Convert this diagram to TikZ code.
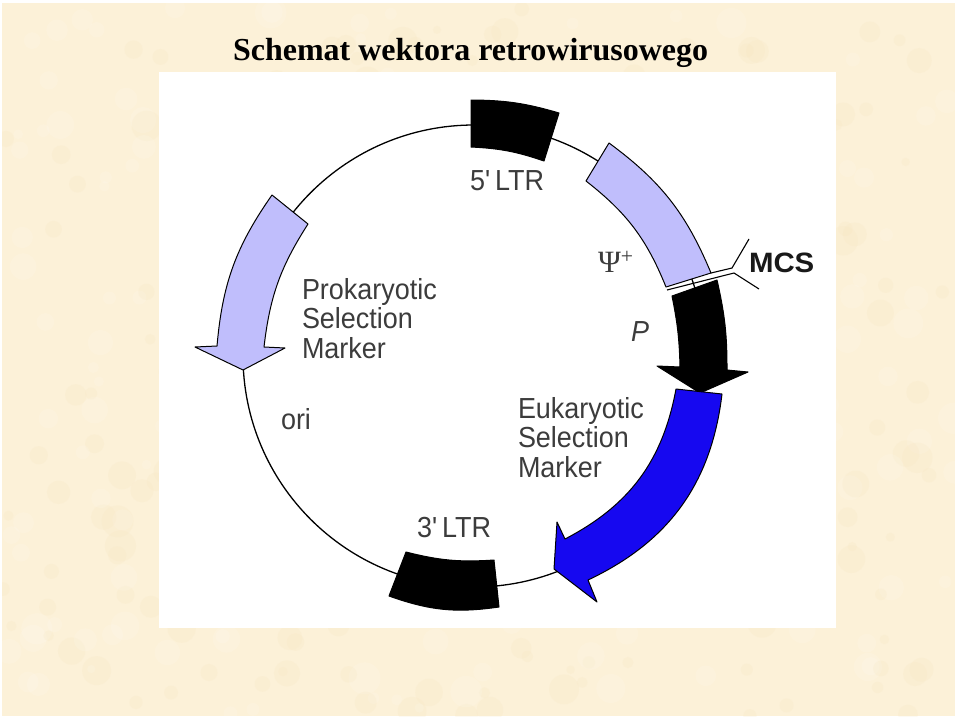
\documentclass[tikz,border=0pt]{standalone}
\usepackage{fontspec}
\setmainfont{Liberation Serif}
\newfontfamily\labelfont[FakeStretch=0.93, WordSpace=0.65]{Liberation Sans}
\newfontfamily\mcsfont[FakeStretch=1.05]{Liberation Sans}
\definecolor{paper}{HTML}{FCF1D8}
\definecolor{blotch}{HTML}{F6E3BC}
\definecolor{lavender}{HTML}{C0BEFC}
\definecolor{deepblue}{HTML}{1608F0}
\definecolor{labelgrey}{HTML}{3C3C3C}
\begin{document}
\begin{tikzpicture}[
  x=1pt, y=-1pt,
  every node/.style={inner sep=0pt, outer sep=0pt},
  plasmid/.style={draw=black, line width=1.3pt},
  segment/.style={draw=black, line width=1pt, line join=round},
  label text/.style={font=\labelfont\fontsize{29}{29.5}\selectfont, text=labelgrey, align=left, anchor=north west}
]
\useasboundingbox (0,0) rectangle (960,720);
\fill[paper] (2,3) rectangle (955,716);
\pgfmathsetseed{7}
\begin{scope}
  \clip (2,3) rectangle (955,716);
  \foreach \i in {1,...,220} {
    \fill[blotch, opacity=0.18] (2+953*rnd,3+713*rnd) circle [radius=4+12*rnd];
    \fill[white, opacity=0.12] (2+953*rnd,3+713*rnd) circle [radius=4+12*rnd];
  }
\end{scope}
\fill[white] (159,72) rectangle (836,628);

\node[font=\bfseries\fontsize{32}{34}\selectfont, anchor=base west] (title) at (233,60) {Schemat wektora retrowirusowego};

% plasmid ring
\draw[plasmid] (474,356) circle [radius=231];

% segments, clockwise from the top
\filldraw[segment, fill=black] (471,100) to[bend left=8] (559,113) -- (544,161)
  to[bend right=8] (471,147) -- cycle;
\filldraw[segment, fill=lavender] (609,143) to[bend left=15.5] (711,273) -- (666,287)
  to[bend right=15] (586,181) -- cycle;
\filldraw[segment, fill=black] (672,296) to[bend left=5] (680,367) -- (657,366)
  -- (700,393) -- (748,372) -- (727,370) to[bend right=6.5] (717,280) -- cycle;
\filldraw[segment, fill=deepblue] (676,389) -- (722,394) to[bend left=29] (588,580)
  -- (597,602) -- (554,569) -- (557,522) -- (565,539) to[bend right=26] (676,389) -- cycle;
\filldraw[segment, fill=black] (406,552) to[bend right=9] (494,560) -- (499,607)
  to[bend left=14] (389,596) -- cycle;
\filldraw[segment, fill=lavender] (272,195) -- (308,224) to[bend right=13] (264,347)
  -- (285,348) -- (243,370) -- (195,347) -- (217,346) to[bend left=15] (272,195) -- cycle;

% MCS bars
\coordinate (mcs top) at (749,239);
\coordinate (mcs bottom) at (759,289);
\draw[plasmid, line width=1.1pt] (711,273) -- (732,268) -- (mcs top);
\draw[plasmid, line width=1.1pt] (667,290) -- (734,273) -- (mcs bottom);

\node[label text] (ltr five) at (470,171) {5' LTR};
\node[label text] (ltr three) at (417,517) {3' LTR};
\node[label text] (prok) at (302,278) {Prokaryotic\\Selection\\Marker};
\node[label text] (euk) at (518,397) {Eukaryotic\\Selection\\Marker};
\node[label text] (ori) at (281,408) {ori};
\node[label text, font=\labelfont\itshape\fontsize{29}{29.5}\selectfont] (prom) at (631,322) {P};
\node[label text, font=\mcsfont\bfseries\fontsize{28}{30}\selectfont, text=black!90] (mcs) at (749,253) {MCS};
\node[label text, font=\fontsize{31}{32}\selectfont] (psi) at (598,251) {Ψ\textsuperscript{+}};
\end{tikzpicture}
\end{document}
